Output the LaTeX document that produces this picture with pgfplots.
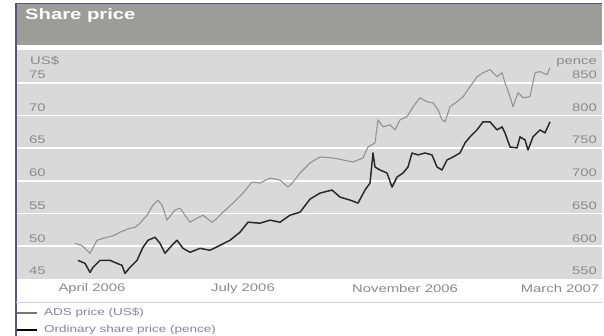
\documentclass[border=0pt]{standalone}
\usepackage{pgfplots}
\pgfplotsset{compat=1.18}
\usepackage{fontspec}
\setmainfont{Liberation Sans}[FakeStretch=1.35]
\definecolor{titlegray}{HTML}{9C9D99}
\definecolor{plotgray}{HTML}{D9D9D9}
\definecolor{framecol}{HTML}{55557A}
\definecolor{labgray}{HTML}{8A8A8A}
\definecolor{legtext}{HTML}{8484A0}
\definecolor{adscol}{HTML}{939393}
\definecolor{ordcol}{HTML}{2A2A2A}
\pgfplotstableread{
x usd
75 50.46
82 50.10
90 48.93
97 50.92
107 51.38
113 51.60
120 52.15
130 52.76
135 52.90
140 53.53
147 54.75
153 56.29
158 57.06
162 56.29
167 53.99
175 55.52
180 55.83
190 53.68
197 54.29
203 54.75
212 53.68
215 53.99
223 55.21
233 56.60
243 58.13
252 59.82
260 59.66
270 60.43
280 60.12
288 59.05
293 59.82
300 61.20
310 62.73
320 63.65
333 63.50
343 63.19
353 62.88
363 63.50
368 65.18
375 65.80
378 69.33
383 68.25
390 68.56
395 67.79
400 69.33
407 69.79
413 71.32
420 72.70
427 72.09
433 71.93
438 70.86
442 69.33
445 69.02
450 71.32
457 72.09
463 72.85
470 74.39
477 75.92
483 76.53
490 76.99
497 75.92
502 76.53
505 75.00
510 72.85
513 71.32
518 73.47
523 72.70
530 72.85
535 76.53
540 76.69
547 76.23
550 77.30
}\adsdata
\pgfplotstableread{
x pence
78 578.5
85 573.9
90 560.1
93 567.8
100 578.5
110 578.5
117 573.9
122 570.9
125 558.6
130 567.8
137 578.5
143 598.5
148 609.2
155 613.8
160 604.6
165 589.3
172 601.5
177 609.2
183 596.9
190 590.8
200 596.9
210 593.9
220 601.5
230 609.2
240 621.5
248 636.8
260 635.3
270 639.9
280 636.8
290 647.5
300 652.1
310 672.0
320 681.3
332 685.9
340 675.2
350 670.6
358 666.0
365 685.9
370 696.6
373 742.6
375 721.2
380 716.6
387 712.0
392 690.5
397 705.8
403 712.0
408 721.2
412 742.6
418 739.6
425 742.6
432 739.6
437 721.2
442 716.6
447 731.9
453 736.5
460 742.6
465 758.0
470 767.2
477 777.9
483 790.2
490 790.2
497 777.9
502 782.5
505 773.3
510 751.8
517 750.3
520 767.2
525 762.6
528 747.2
533 767.2
540 777.9
545 773.3
550 790.2
}\orddata
\begin{document}
\begin{tikzpicture}[x=1pt,y=1pt]
\useasboundingbox (0,0) rectangle (604,336);
\fill[white] (0,0) rectangle (604,336);
\fill[titlegray] (16,291) rectangle (602,332);
\draw[framecol, line width=1.2pt] (16,0) -- (16,332.6) -- (602,332.6);
\node[anchor=west, text=white, font=\fontsize{15}{17}\selectfont\bfseries, inner sep=0pt] at (25,320) {Share price};
\begin{axis}[
  at={(17pt,57pt)}, anchor=south west, scale only axis,
  width=585pt, height=229pt,
  xmin=17, xmax=602, ymin=45, ymax=80,
  axis background/.style={fill=plotgray},
  axis line style={draw=none},
  tick style={draw=none},
  major tick length=0pt,
  ytick={50,55,...,75}, yticklabels={},
  ymajorgrids, grid style={white, line width=1.6pt},
  xtick={92,243,405,560},
  xticklabels={April 2006, July 2006, November 2006, March 2007},
  xticklabel style={anchor=center, yshift=-9.5pt, text=labgray, font=\fontsize{11}{13}\selectfont, inner sep=0pt},
  clip=false,
]
\addplot[adscol, line width=1.1pt, line join=round] table[x=x, y=usd] {\adsdata};
\foreach \v in {45,50,...,75} {
  \edef\tmp{\noexpand\node[anchor=west, text=labgray, font=\noexpand\fontsize{11}{13}\noexpand\selectfont, inner sep=0pt] at (axis cs:29,\v) [yshift=8pt] {\v};}
  \tmp
}
\node[anchor=west, text=labgray, font=\fontsize{11}{13}\selectfont, inner sep=0pt] at (axis cs:30,78.4) {US\$};
\foreach \v/\p in {45/550,50/600,55/650,60/700,65/750,70/800,75/850} {
  \edef\tmp{\noexpand\node[anchor=east, text=labgray, font=\noexpand\fontsize{11}{13}\noexpand\selectfont, inner sep=0pt] at (axis cs:597,\v) [yshift=8pt] {\p};}
  \tmp
}
\node[anchor=east, text=labgray, font=\fontsize{11}{13}\selectfont, inner sep=0pt] at (axis cs:597,78.0) {pence};
\end{axis}
\begin{axis}[
  at={(17pt,57pt)}, anchor=south west, scale only axis,
  width=585pt, height=229pt,
  xmin=17, xmax=602, ymin=550, ymax=900,
  hide axis,
]
\addplot[ordcol, line width=1.5pt, line join=round] table[x=x, y=pence] {\orddata};
\end{axis}
\draw[black!18, line width=0.8pt] (16,34) -- (602,34);
\draw[adscol!80!black, line width=1.4pt] (17,23) -- (37,23);
\node[anchor=west, text=legtext, font=\fontsize{10}{12}\selectfont, inner sep=0pt] at (44,23) {ADS price (US\$)};
\draw[black, line width=2pt] (17,5.5) -- (37,5.5);
\node[anchor=west, text=legtext, font=\fontsize{10}{12}\selectfont, inner sep=0pt] at (44,6) {Ordinary share price (pence)};
\end{tikzpicture}
\end{document}
